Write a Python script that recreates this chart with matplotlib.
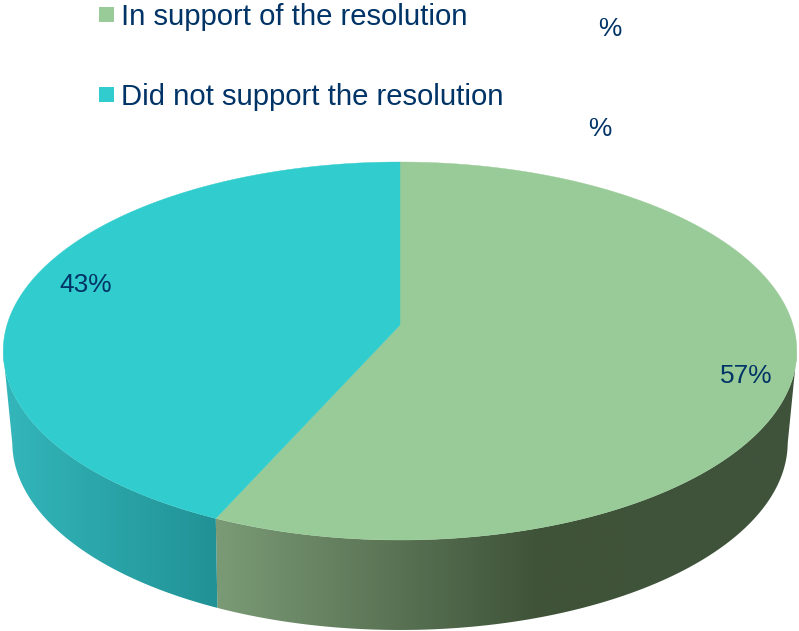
#plot.py
import numpy as np
import matplotlib
matplotlib.use('Agg')
import matplotlib.pyplot as plt
from matplotlib.patches import Polygon, Rectangle
from matplotlib.colors import LinearSegmentedColormap

plt.rcParams['font.family'] = ['Liberation Sans', 'DejaVu Sans']

categories = ['In support of the resolution', 'Did not support the resolution']
values = [57, 43]
labels = ['57%', '43%']
colors = ['#99CB98', '#31CCCD']
text_col = '#003366'

W = 799
H = 631

k = 0.1376

# projected disc: theta is clockwise from the top, in degrees
# warp nudges the angles a bit, the 3d view of the original is not a pure projection
def project(theta, c, a, b, warp):
    t = np.radians(theta + warp*np.sin(np.radians(2*theta)))
    u = np.sin(t)
    v = np.cos(t)
    d = 1 + k*v
    return 400 + c*u/d, (b - a*v)/d

def top_pts(theta):
    return project(theta, 393, 140.7, 325, -1.3)

def bottom_pts(theta):
    return project(theta, 384, 126.6, 416.7, -0.8)

def wall(ax, t0, t1, stops, x0, x1, xa, xb):
    th = np.linspace(t0, t1, 200)
    xt, yt = top_pts(th)
    xbot, ybot = bottom_pts(th[::-1])
    pts = np.column_stack([np.r_[xt, xbot], np.r_[yt, ybot]])
    poly = Polygon(pts, closed=True, fc='none', ec='none')
    ax.add_patch(poly)
    cmap = LinearSegmentedColormap.from_list('wall', stops)
    grad = np.clip((np.linspace(xa, xb, 512) - x0)/(x1 - x0), 0, 1).reshape(1, -1)
    im = ax.imshow(grad, cmap=cmap, vmin=0, vmax=1, extent=(xa, xb, H, 0), aspect='auto', zorder=1)
    im.set_clip_path(poly)

fig = plt.figure(figsize=(W/100, H/100), dpi=100)
ax = fig.add_axes([0, 0, 1, 1])

fracs = np.array(values)/sum(values)
edges = np.r_[0, np.cumsum(fracs)]*360

# side walls (only the front part can be seen)
wall(ax, 98, edges[1], [(0, '#7A9A75'), (0.55, '#3F5339'), (1, '#40533C')], 218, 800, 200, 800)
wall(ax, edges[1], 262, [(0, '#33B6BA'), (1, '#219296')], 5, 218, 0, 230)

# top of the pie
for i in range(len(values)):
    th = np.linspace(edges[i], edges[i+1], 300)
    x, y = top_pts(th)
    cx, cy = top_pts(0)[0], 325
    pts = np.column_stack([np.r_[cx, x], np.r_[cy, y]])
    ax.add_patch(Polygon(pts, closed=True, fc=colors[i], ec=colors[i], lw=0.3, zorder=2))

ax.text(746, 376, labels[0], fontsize=18.9, color=text_col, ha='center', va='center', zorder=3)
ax.text(86, 284.5, labels[1], fontsize=18.9, color=text_col, ha='center', va='center', zorder=3)

# legend
ax.add_patch(Rectangle((99, 7), 15, 15, fc=colors[0], ec='none'))
ax.add_patch(Rectangle((99, 87), 15, 15, fc=colors[1], ec='none'))
ax.text(121, 25, categories[0], fontsize=21.05, color=text_col, ha='left', va='baseline')
ax.text(121, 105, categories[1], fontsize=21.05, color=text_col, ha='left', va='baseline')

# stray percent signs
ax.text(610, 29.5, '%', fontsize=18.9, color=text_col, ha='center', va='center')
ax.text(600, 128.5, '%', fontsize=18.9, color=text_col, ha='center', va='center')

ax.set_xlim(0, W)
ax.set_ylim(H, 0)
ax.axis('off')

fig.savefig('out.png', dpi=100)
